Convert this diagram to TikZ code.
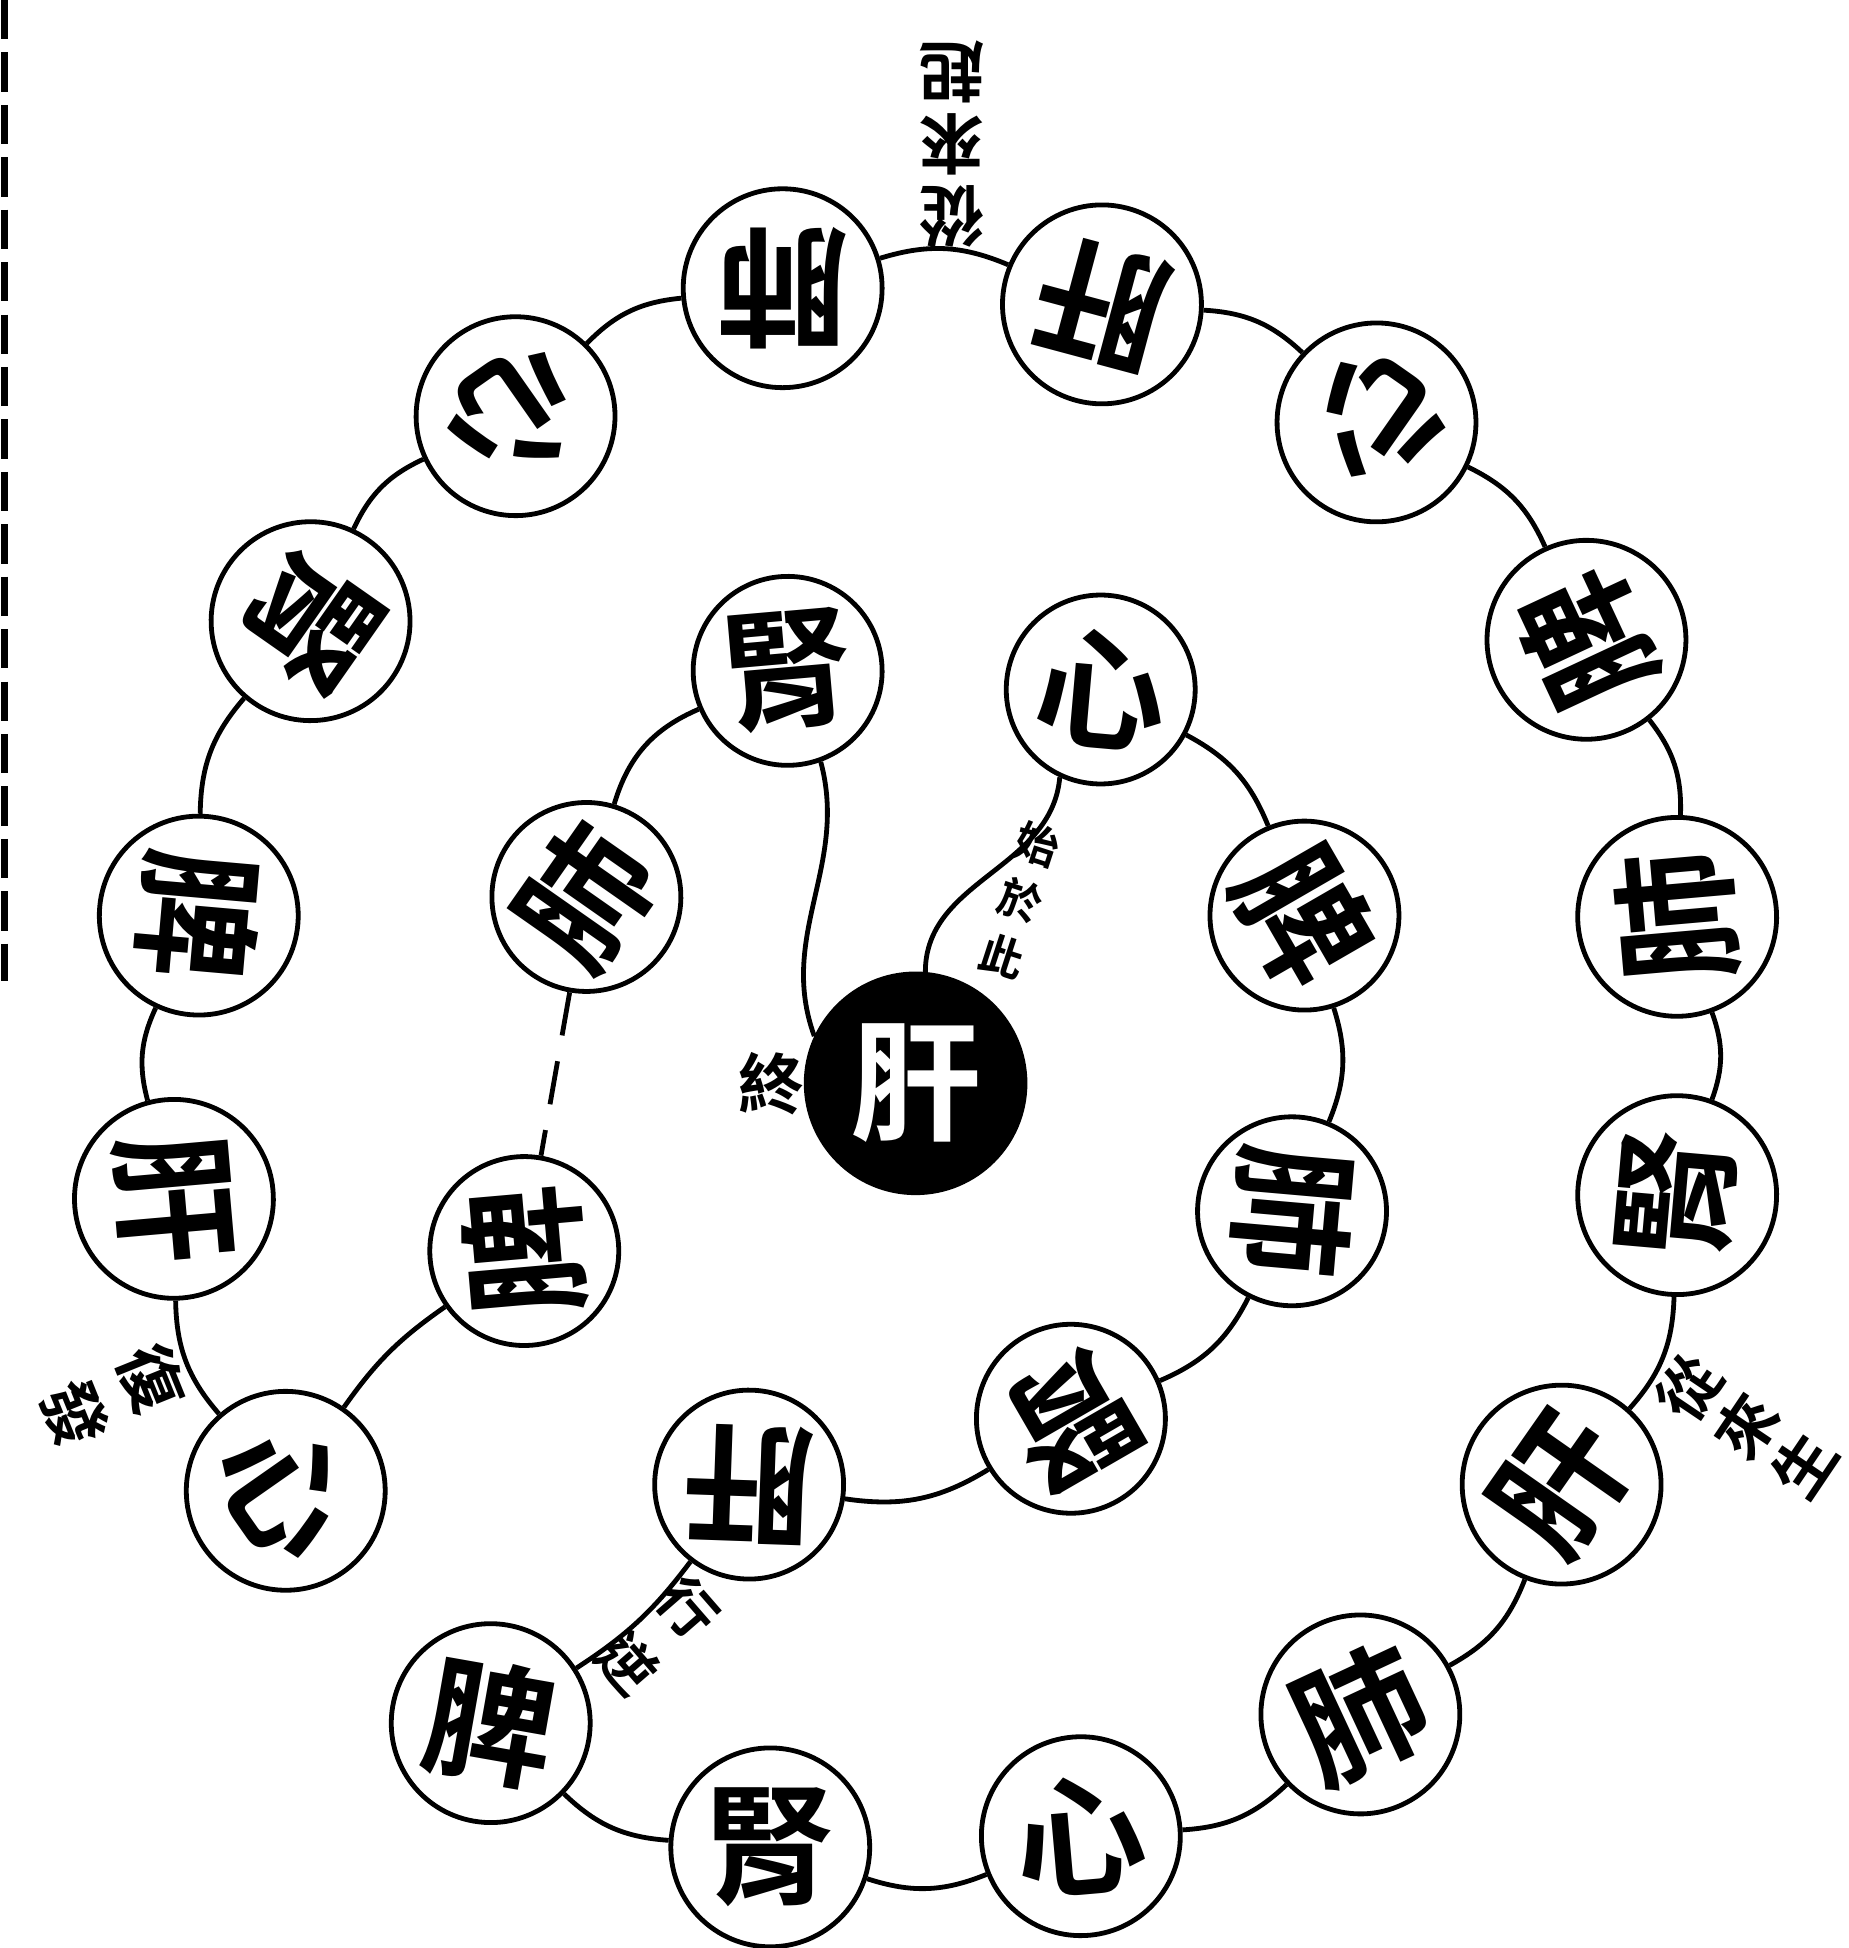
\documentclass[tikz,border=0pt]{standalone}
\usepackage{fontspec}
\newfontfamily\cjk{Noto Sans CJK TC}[UprightFont=* Bold]
\begin{document}
\begin{tikzpicture}[x=0.01cm,y=0.01cm,
organ/.style={circle,draw,line width=1.1pt,minimum size=1.6cm,inner sep=0pt,
font=\cjk\fontsize{30}{30}\selectfont},
inorgan/.style={organ,minimum size=1.52cm},
hub/.style={organ,minimum size=1.76cm,fill=black,text=white},
note/.style={inner sep=0pt,font=\cjk\fontsize{15}{15}\selectfont},
smallnote/.style={inner sep=0pt,font=\cjk\fontsize{10}{10}\selectfont},
link/.style={line width=1.1pt}
]
\useasboundingbox (0,0) rectangle (1488,1568);

% scan edge
\coordinate (edgeT) at (4,1568);
\coordinate (edgeB) at (4,778);
\draw[line width=1.6pt,dash pattern=on 9pt off 3pt] (edgeT) -- (edgeB);

% outer ring
\node[organ,rotate=180]  (o1)  at (630,1336)  {肺};
\node[organ,rotate=165]  (o2)  at (887,1323)  {肝};
\node[organ,rotate=145]  (o3)  at (1108,1228) {心};
\node[organ,rotate=115]  (o4)  at (1277,1053) {脾};
\node[organ,rotate=95]   (o5)  at (1350,830)  {肺};
\node[organ,rotate=85]   (o6)  at (1350,606)  {腎};
\node[organ,rotate=55]   (o7)  at (1257,373)  {肝};
\node[organ,rotate=25]   (o8)  at (1095,188)  {肺};
\node[organ,rotate=5]    (o9)  at (870,90)    {心};
\node[organ]             (o10) at (620,81)    {腎};
\node[organ,rotate=-10]  (o11) at (395,181)   {脾};
\node[organ,rotate=-55]  (o12) at (230,368)   {心};
\node[organ,rotate=-85]  (o13) at (140,603)   {肝};
\node[organ,rotate=-95]  (o14) at (160,831)   {脾};
\node[organ,rotate=-125] (o15) at (250,1068)  {腎};
\node[organ,rotate=-145] (o16) at (415,1233)  {心};

% inner ring
\node[inorgan,rotate=5]    (i1) at (634,1028) {腎};
\node[inorgan,rotate=-5]   (i2) at (886,1013) {心};
\node[inorgan,rotate=55]   (i3) at (472,846)  {肺};
\node[inorgan,rotate=-60]  (i4) at (1050,831) {脾};
\node[inorgan,rotate=95]   (i5) at (422,561)  {脾};
\node[inorgan,rotate=-95]  (i6) at (1040,593) {肺};
\node[inorgan,rotate=-150] (i7) at (862,426)  {腎};
\node[inorgan,rotate=178]  (i8) at (603,373)  {肝};
\node[hub] (c) at (737,696) {肝};

% labels
\node[note,rotate=180] (lt1) at (766,1510) {起};
\node[note,rotate=180] (lt2) at (766,1452) {來};
\node[note,rotate=180] (lt3) at (766,1394) {從};
\node[note,rotate=56,font=\cjk\fontsize{14}{14}\selectfont] (lr1) at (1360,451) {從};
\node[note,rotate=56,font=\cjk\fontsize{14}{14}\selectfont] (lr2) at (1406,420) {來};
\node[note,rotate=56,font=\cjk\fontsize{14}{14}\selectfont] (lr3) at (1452,389) {生};
\node[note,rotate=-68] (ll1) at (122,458) {復};
\node[note,rotate=-68] (ll2) at (60,430) {發};
\node[note,rotate=-49,font=\cjk\fontsize{13}{13}\selectfont] (lb1) at (554,274) {行};
\node[note,rotate=-49,font=\cjk\fontsize{13}{13}\selectfont] (lb2) at (505,229) {逆};
\node[note] (lc) at (621,696) {終};
\node[smallnote,rotate=-18] (lm1) at (835,888) {始};
\node[smallnote,rotate=-18] (lm2) at (821,843) {於};
\node[smallnote,rotate=-18] (lm3) at (807,798) {此};

% outer ring links
\foreach \a/\b in {o12/o13,o13/o14,o14/o15,o15/o16,o16/o1,o1/o2,o2/o3,o3/o4,
o4/o5,o5/o6,o6/o7,o7/o8,o8/o9,o9/o10,o10/o11}
  \draw[link] (\a) to[bend left=20] (\b);

% inner ring links
\draw[link] (o11) to[bend right=10] (i8);
\foreach \a/\b in {i8/i7,i7/i6,i6/i4,i4/i2}
  \draw[link] (\a) to[bend right=20] (\b);
\draw[link] (i2.250) to[out=-95,in=90] (c.85);
\draw[link] (c.155) to[out=110,in=-75] (i1.-75);
\draw[link] (i1) to[bend right=25] (i3);
\draw[link,dash pattern=on 10pt off 6pt] (i3) -- (i5);
\draw[link] (i5) to[bend right=10] (o12);
\end{tikzpicture}
\end{document}
